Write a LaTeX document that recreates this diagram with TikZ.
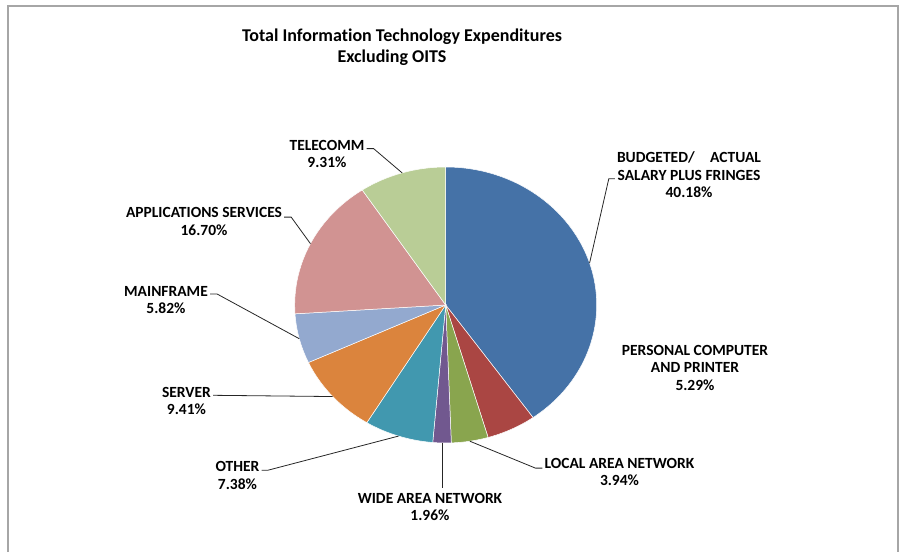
\documentclass[tikz,border=0pt]{standalone}
\usepackage{fontspec}
\setmainfont{Carlito}[Ligatures=NoCommon]
\usetikzlibrary{calc}
\definecolor{budgetblue}{HTML}{4572A7}
\definecolor{pcred}{HTML}{AA4643}
\definecolor{langreen}{HTML}{89A54E}
\definecolor{wanpurple}{HTML}{71588F}
\definecolor{otherteal}{HTML}{4198AF}
\definecolor{serverorange}{HTML}{DB843D}
\definecolor{mainblue}{HTML}{93A9CF}
\definecolor{appspink}{HTML}{D19392}
\definecolor{telegreen}{HTML}{B9CD96}
\newcommand{\pieslice}[4]{
	\fill[#3, draw=white, line width=0.5pt] (0,0) -- (#1:151 and 138)
		arc[start angle=#1, end angle=#2, x radius=151, y radius=138] -- cycle;
	\coordinate (#4) at ({(#1+(#2))/2}:151 and 138);
}

\begin{document}
\begin{tikzpicture}[x=1pt,y=1pt,
	lbl/.style={font=\bfseries\fontsize{15.5}{17.5}\selectfont, align=center, inner sep=0pt, text=black},
	heading/.style={font=\bfseries\fontsize{18}{21}\selectfont, inner sep=0pt, text=black},
	leader/.style={draw=black!85, line width=0.8pt}]
	\useasboundingbox (0,0) rectangle (900,552);
	\draw[gray!70, line width=1.5pt] (8,0) -- (8,546) -- (898,546) -- (898,0);

	\node[heading] (title) at (402,515.5) {Total Information Technology Expenditures};
	\node[heading] (subtitle) at (392,494.5) {Excluding OITS};

	\begin{scope}[shift={(445.7,247)}]
	\pieslice{90}{-54.648}{budgetblue}{e-budgeted}
	\pieslice{-54.648}{-73.692}{pcred}{e-pc}
	\pieslice{-73.692}{-87.876}{langreen}{e-lan}
	\pieslice{-87.876}{-94.932}{wanpurple}{e-wan}
	\pieslice{-94.932}{-121.5}{otherteal}{e-other}
	\pieslice{-121.5}{-155.376}{serverorange}{e-server}
	\pieslice{-155.376}{-176.328}{mainblue}{e-mainframe}
	\pieslice{-176.328}{-236.448}{appspink}{e-apps}
	\pieslice{-236.448}{-270}{telegreen}{e-telecomm}
	\end{scope}

	\node[lbl] (budgeted) at (689,377.1) {BUDGETED/\quad ACTUAL\\SALARY PLUS FRINGES\\40.18\%};
	\node[lbl] (pc) at (695,184.2) {PERSONAL COMPUTER\\AND PRINTER\\5.29\%};
	\node[lbl] (lan) at (619.5,79.8) {LOCAL AREA NETWORK\\3.94\%};
	\node[lbl] (wan) at (430,45.1) {WIDE AREA NETWORK\\1.96\%};
	\node[lbl] (other) at (237.5,76.6) {OTHER\\7.38\%};
	\node[lbl] (server) at (186.5,151.1) {SERVER\\9.41\%};
	\node[lbl] (mainframe) at (166,252) {MAINFRAME\\5.82\%};
	\node[lbl] (apps) at (204,330.3) {APPLICATIONS SERVICES\\16.70\%};
	\node[lbl] (telecomm) at (327,397.8) {TELECOMM\\9.31\%};

	\draw[leader] ([xshift=-2pt,yshift=-27pt]budgeted.north west) -- ++(-6,0) -- (e-budgeted);
	\draw[leader] ([xshift=-2pt,yshift=-10pt]lan.north west) -- ++(-7,0) -- (e-lan);
	\draw[leader] (e-wan) -- ($(e-wan |- wan.north)+(0,5)$);
	\draw[leader] ([xshift=2pt,yshift=-9pt]other.north east) -- ++(6,0) -- (e-other);
	\draw[leader] ([xshift=2pt,yshift=-8.5pt]server.north east) -- (e-server);
	\draw[leader] ([xshift=2pt,yshift=-8pt]mainframe.north east) -- ++(7,0) -- (e-mainframe);
	\draw[leader] ([xshift=2pt,yshift=-9.5pt]apps.north east) -- ++(7,0) -- (e-apps);
	\draw[leader] ([xshift=2pt,yshift=-8.5pt]telecomm.north east) -- ++(7,0) -- (e-telecomm);
\end{tikzpicture}
\end{document}
